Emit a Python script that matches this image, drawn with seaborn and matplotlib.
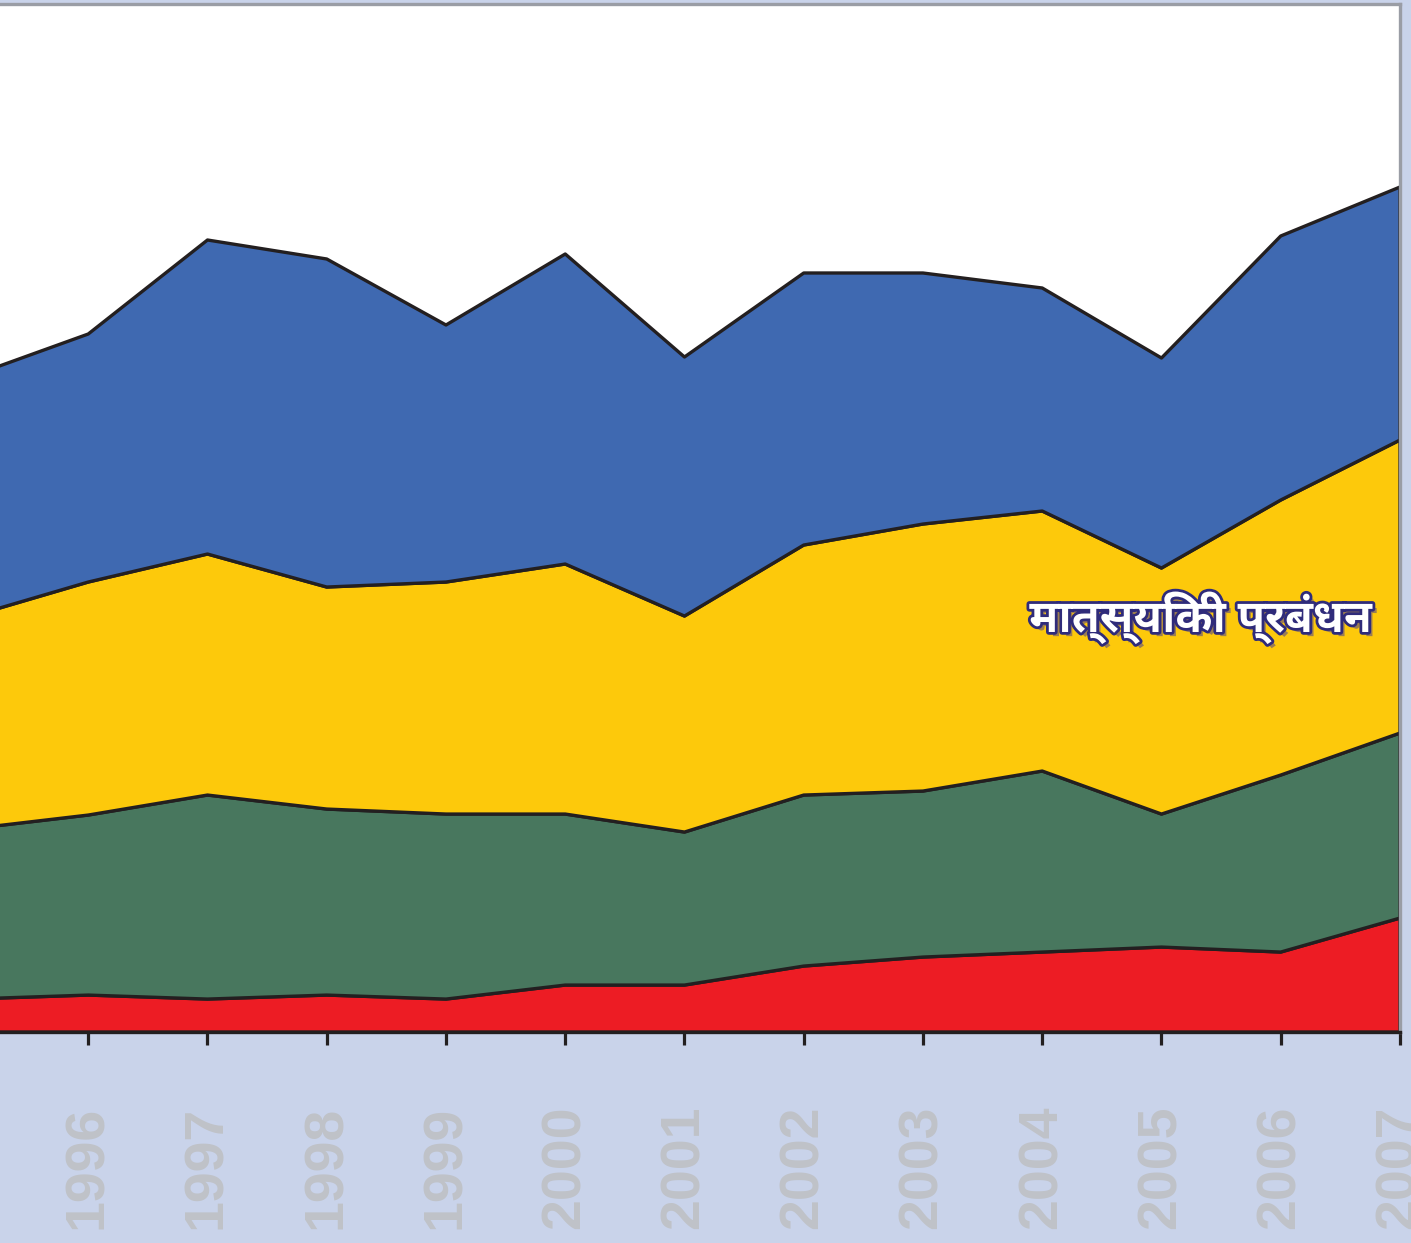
import numpy as np
import seaborn as sns
import matplotlib
matplotlib.use("Agg")
import matplotlib.pyplot as plt
import matplotlib.patheffects as pe

# years and the four stacked layers
years = [1995, 1996, 1997, 1998, 1999, 2000, 2001, 2002, 2003, 2004, 2005, 2006, 2007]
red_layer = [3.3, 3.7, 3.3, 3.7, 3.3, 4.7, 4.7, 6.6, 7.5, 8.0, 8.5, 8.0, 11.4]
green_layer = [17.0, 18.0, 20.4, 18.6, 18.5, 17.1, 15.3, 17.1, 16.6, 18.1, 13.3, 17.7, 18.5]
yellow_layer = [21.2, 23.3, 24.1, 22.2, 23.2, 25.0, 21.6, 25.0, 26.7, 26.0, 24.6, 27.5, 29.3]
blue_layer = [24.0, 24.8, 31.4, 32.8, 25.7, 31.0, 25.9, 27.2, 25.1, 22.3, 21.0, 26.4, 25.3]
tick_years = [1996, 1997, 1998, 1999, 2000, 2001, 2002, 2003, 2004, 2005, 2006, 2007]
label_text = "मात्स्यिकी प्रबंधन"

layer_colors = ["#ed1c24", "#48775e", "#fdc90b", "#3f69b1"]
edge_color = "#231f20"
bg_color = "#c9d3ea"
frame_gray = "#9a9da5"

sns.set_theme(style="white")
plt.rcParams["font.family"] = ["Liberation Sans", "DejaVu Sans"]

fig = plt.figure(figsize=(14.11, 12.43), dpi=100, facecolor=bg_color)
ax = fig.add_axes([0.0, 0.1697, 0.9922, 0.8271])
ax.set_facecolor("white")

ax.stackplot(years, red_layer, green_layer, yellow_layer, blue_layer,
             colors=layer_colors, edgecolor=edge_color, linewidth=2.4, zorder=2)

ax.set_xlim(1995.26, 2007)
ax.set_ylim(0, 102.8)
ax.set_yticks([])
ax.set_xticks(tick_years)
ax.set_xticklabels([str(y) for y in tick_years], rotation=90,
                   fontsize=40, fontweight="bold", color="#bfc2c8")
ax.tick_params(axis="x", direction="out", length=9, width=2.3,
               color=edge_color, pad=44, bottom=True)

for side in ["top", "right"]:
    ax.spines[side].set_color(frame_gray)
    ax.spines[side].set_linewidth(2.4)
ax.spines["left"].set_visible(False)
ax.spines["bottom"].set_color(edge_color)
ax.spines["bottom"].set_linewidth(2.4)
ax.spines["bottom"].set_zorder(3)

# label on the yellow band
txt = ax.text(2005.33, 41.4, label_text, ha="center", va="center",
              fontsize=32.5, fontweight="bold", color="white", zorder=5,
              family=["Noto Sans Devanagari UI", "Mukta", "DejaVu Sans"])
txt.set_path_effects([
    pe.SimplePatchShadow(offset=(3, -3), shadow_rgbFace="#4b3f8f", alpha=0.55),
    pe.Stroke(linewidth=4, foreground="#2f2b7a"),
    pe.Normal(),
])

fig.savefig("out.png", dpi=100, facecolor=bg_color)
